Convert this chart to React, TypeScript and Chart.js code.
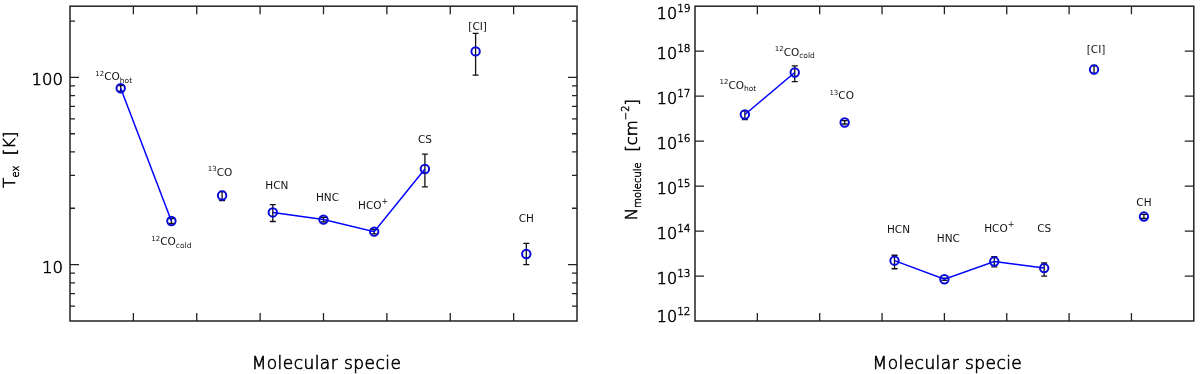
import React, { useEffect, useRef } from "react";
import { Chart, registerables } from "chart.js";

Chart.register(...registerables);

// ---------- data ----------
const speciesX = [0.8, 1.6, 2.4, 3.2, 4.0, 4.8, 5.6, 6.4, 7.2];
const speciesPre = ["12", "12", "13", "", "", "", "", "", ""];
const speciesMain = ["CO", "CO", "CO", "HCN", "HNC", "HCO", "CS", "[CI]", "CH"];
const speciesSub = ["hot", "cold", "", "", "", "", "", "", ""];
const speciesSup = ["", "", "", "", "", "+", "", "", ""];

const texValues = [87.5, 17.1, 23.4, 19.0, 17.4, 15.0, 32.4, 137.7, 11.4];
const texErrLow = [84.5, 16.6, 22.0, 17.0, 16.9, 14.6, 26.0, 102.8, 10.0];
const texErrHigh = [90.5, 17.6, 24.6, 20.9, 17.9, 15.4, 38.9, 172.0, 13.0];

const nValues = [3.9e16, 3.35e17, 2.6e16, 2.2e13, 8.5e12, 2.1e13, 1.5e13, 3.9e17, 2.1e14];
const nErrLow = [3.0e16, 2.1e17, 2.4e16, 1.45e13, 8.0e12, 1.6e13, 1.0e13, 3.2e17, 1.9e14];
const nErrHigh = [4.7e16, 4.7e17, 2.85e16, 2.9e13, 9.0e12, 2.7e13, 1.95e13, 4.8e17, 2.35e14];

const connectedGroups = [[0, 1], [3, 4, 5, 6]];

const xTicks = [1, 2, 3, 4, 5, 6, 7];
const texMajorTicks = [10, 100];
const texMinorTicks = [6, 7, 8, 9, 20, 30, 40, 50, 60, 70, 80, 90, 200];
const nMajorTicks = [1e12, 1e13, 1e14, 1e15, 1e16, 1e17, 1e18, 1e19];
const xTitle = "Molecular specie";

// ---------- styling ----------
const FF = '"DejaVu Sans", "Liberation Sans", sans-serif';
const TXT = "#000";
const AXIS = "#222";
const BLUE_LINE = "#0000ff";
const BLUE_MARK = "#0a0ad8";

type Part = { t: string; s: number; dy: number };

function fontFor(s: number) {
  return s >= 9.5 && s > 11 ? `200 ${s}px ${FF}` : `${s}px ${FF}`;
}

function paintText(ctx: CanvasRenderingContext2D, t: string, x: number, y: number, s: number) {
  ctx.fillText(t, x, y);
  if (s > 11) {
    ctx.lineWidth = 0.55;
    ctx.strokeStyle = TXT;
    ctx.strokeText(t, x, y);
  }
}

function drawRich(ctx: CanvasRenderingContext2D, parts: Part[], x: number, y: number, align: string, big = false) {
  const fnt = (p: Part) => (big ? `200 ${p.s}px ${FF}` : `${p.s}px ${FF}`);
  let w = 0;
  const widths: number[] = [];
  for (const p of parts) {
    ctx.font = fnt(p);
    const m = ctx.measureText(p.t).width;
    widths.push(m);
    w += m;
  }
  let cx = align === "center" ? x - w / 2 : align === "right" ? x - w : x;
  ctx.textAlign = "left";
  ctx.textBaseline = "alphabetic";
  parts.forEach((p, i) => {
    ctx.font = fnt(p);
    ctx.fillText(p.t, cx, y + p.dy);
    if (big) {
      ctx.lineWidth = p.s > 12 ? 0.6 : 0.45;
      ctx.strokeStyle = TXT;
      ctx.strokeText(p.t, cx, y + p.dy);
    }
    cx += widths[i];
  });
}

function speciesParts(i: number): Part[] {
  const parts: Part[] = [];
  if (speciesPre[i]) parts.push({ t: speciesPre[i], s: 7, dy: -4.5 });
  parts.push({ t: speciesMain[i], s: 10.5, dy: 0 });
  if (speciesSub[i]) parts.push({ t: speciesSub[i], s: 7.5, dy: 2.5 });
  if (speciesSup[i]) parts.push({ t: speciesSup[i], s: 8, dy: -4.5 });
  return parts;
}

type PanelSpec = {
  values: number[];
  errLow: number[];
  errHigh: number[];
  yMin: number;
  yMax: number;
  majorTicks: number[];
  minorTicks: number[];
  tickLabel: (v: number) => Part[];
  labelClamp: boolean;
  tickLabelGap: number;
  yTitle: Part[];
  yTitleGap: number;
  labelOffsets: number[][];
  padding: { left: number; right: number; top: number; bottom: number };
};

const leftSpec: PanelSpec = {
  values: texValues,
  errLow: texErrLow,
  errHigh: texErrHigh,
  yMin: 5,
  yMax: 240,
  majorTicks: texMajorTicks,
  minorTicks: texMinorTicks,
  tickLabel: (v) => [{ t: String(v), s: 16.5, dy: 0 }],
  labelClamp: false,
  tickLabelGap: 7,
  yTitle: [
    { t: "T", s: 16.5, dy: 0 },
    { t: "ex", s: 10, dy: 4 },
    { t: "  [K]", s: 16.5, dy: 0 },
  ],
  yTitleGap: 55,
  labelOffsets: [[-7, -12], [0, 20], [-2, -24], [4, -27], [4, -23], [-1, -27], [0, -30], [2, -25], [0, -36]],
  padding: { left: 70, right: 23, top: 3, bottom: 53 },
};

const rightSpec: PanelSpec = {
  values: nValues,
  errLow: nErrLow,
  errHigh: nErrHigh,
  yMin: 1e12,
  yMax: 1e19,
  majorTicks: nMajorTicks,
  minorTicks: [],
  tickLabel: (v) => [
    { t: "10", s: 16, dy: 0 },
    { t: String(Math.round(Math.log10(v))), s: 10.5, dy: -7 },
  ],
  labelClamp: true,
  tickLabelGap: 4.5,
  yTitle: [
    { t: "N", s: 16.5, dy: 0 },
    { t: "molecule", s: 10, dy: 4 },
    { t: "  [cm", s: 16.5, dy: 0 },
    { t: "\u22122", s: 10, dy: -8 },
    { t: "]", s: 16.5, dy: 0 },
  ],
  yTitleGap: 58,
  labelOffsets: [[-7, -30], [0, -21], [-3, -27], [4, -32], [4, -41], [5, -34], [0, -40], [2, -21], [0, -15]],
  padding: { left: 95, right: 2, top: 4, bottom: 53 },
};

function makeDecor(spec: PanelSpec) {
  return {
    id: "decor",
    beforeDatasetsDraw(chart: any) {
      const ctx: CanvasRenderingContext2D = chart.ctx;
      const xs = chart.scales.x;
      const ys = chart.scales.y;
      ctx.save();
      ctx.strokeStyle = "#111";
      ctx.lineWidth = 1.3;
      spec.values.forEach((_, i) => {
        const px = xs.getPixelForValue(speciesX[i]);
        const y1 = ys.getPixelForValue(spec.errLow[i]);
        const y2 = ys.getPixelForValue(spec.errHigh[i]);
        ctx.beginPath();
        ctx.moveTo(px, y1);
        ctx.lineTo(px, y2);
        ctx.moveTo(px - 3, y1);
        ctx.lineTo(px + 3, y1);
        ctx.moveTo(px - 3, y2);
        ctx.lineTo(px + 3, y2);
        ctx.stroke();
      });
      ctx.restore();
    },
    afterDraw(chart: any) {
      const ctx: CanvasRenderingContext2D = chart.ctx;
      const a = chart.chartArea;
      const xs = chart.scales.x;
      const ys = chart.scales.y;
      ctx.save();
      // frame
      ctx.strokeStyle = AXIS;
      ctx.lineWidth = 1.5;
      ctx.strokeRect(a.left, a.top, a.right - a.left, a.bottom - a.top);
      // x ticks (inward, top and bottom)
      ctx.lineWidth = 1.3;
      ctx.beginPath();
      xTicks.forEach((v) => {
        const px = xs.getPixelForValue(v);
        ctx.moveTo(px, a.bottom);
        ctx.lineTo(px, a.bottom - 8);
        ctx.moveTo(px, a.top);
        ctx.lineTo(px, a.top + 8);
      });
      // y ticks
      const yTick = (v: number, len: number) => {
        const py = ys.getPixelForValue(v);
        if (py <= a.top + 1 || py >= a.bottom - 1) return;
        ctx.moveTo(a.left, py);
        ctx.lineTo(a.left + len, py);
        ctx.moveTo(a.right, py);
        ctx.lineTo(a.right - len, py);
      };
      spec.majorTicks.forEach((v) => yTick(v, 9));
      spec.minorTicks.forEach((v) => yTick(v, 5));
      ctx.stroke();

      ctx.fillStyle = TXT;
      // y tick labels
      spec.majorTicks.forEach((v) => {
        const py = ys.getPixelForValue(v);
        let base = py + 8;
        if (spec.labelClamp) base = Math.min(Math.max(base, a.top + 12.5), a.bottom + 1);
        drawRich(ctx, spec.tickLabel(v), a.left - spec.tickLabelGap, base, "right", true);
      });
      // y title (rotated)
      ctx.save();
      ctx.translate(a.left - spec.yTitleGap, (a.top + a.bottom) / 2 - 4);
      ctx.rotate(-Math.PI / 2);
      drawRich(ctx, spec.yTitle, 0, 0, "center", true);
      ctx.restore();
      // x title
      ctx.save();
      ctx.font = `200 17px ${FF}`;
      (ctx as any).letterSpacing = "0.45px";
      ctx.textAlign = "center";
      ctx.textBaseline = "alphabetic";
      const tx = (a.left + a.right) / 2 + 3;
      ctx.fillText(xTitle, tx, 368.5);
      ctx.lineWidth = 0.6;
      ctx.strokeStyle = TXT;
      ctx.strokeText(xTitle, tx, 368.5);
      ctx.restore();
      // species labels
      ctx.fillStyle = "#111";
      spec.values.forEach((val, i) => {
        const px = xs.getPixelForValue(speciesX[i]);
        const py = ys.getPixelForValue(val);
        const off = spec.labelOffsets[i];
        drawRich(ctx, speciesParts(i), px + off[0], py + off[1] + 4, "center");
      });
      ctx.restore();
    },
  };
}

function Panel({ spec, left }: { spec: PanelSpec; left: number }) {
  const ref = useRef<HTMLCanvasElement | null>(null);
  useEffect(() => {
    if (!ref.current) return;
    const points = spec.values.map((v, i) => ({ x: speciesX[i], y: v }));
    const datasets: any[] = [
      {
        data: points,
        showLine: false,
        pointStyle: "circle",
        pointRadius: 4.2,
        pointBorderWidth: 2,
        pointBorderColor: BLUE_MARK,
        pointBackgroundColor: "rgba(0,0,0,0)",
      },
      ...connectedGroups.map((g) => ({
        data: g.map((i) => points[i]),
        showLine: true,
        borderColor: BLUE_LINE,
        borderWidth: 1.5,
        pointRadius: 0,
      })),
    ];
    const chart = new Chart(ref.current, {
      type: "scatter",
      data: { datasets },
      options: {
        responsive: false,
        animation: false,
        devicePixelRatio: 1,
        events: [],
        layout: { padding: spec.padding },
        plugins: { legend: { display: false }, tooltip: { enabled: false } },
        scales: {
          x: { type: "linear", min: 0, max: 8, display: false },
          y: { type: "logarithmic", min: spec.yMin, max: spec.yMax, display: false },
        },
      } as any,
      plugins: [makeDecor(spec)],
    });
    return () => chart.destroy();
  }, [spec]);
  return (
    <canvas
      ref={ref}
      width={600}
      height={374}
      style={{ position: "absolute", left, top: 0, width: 600, height: 374 }}
    />
  );
}

export default function App() {
  return (
    <div
      style={{
        position: "fixed",
        left: 0,
        top: 0,
        width: 1200,
        height: 374,
        background: "#fff",
        overflow: "hidden",
      }}
    >
      <Panel spec={leftSpec} left={0} />
      <Panel spec={rightSpec} left={600} />
    </div>
  );
}
